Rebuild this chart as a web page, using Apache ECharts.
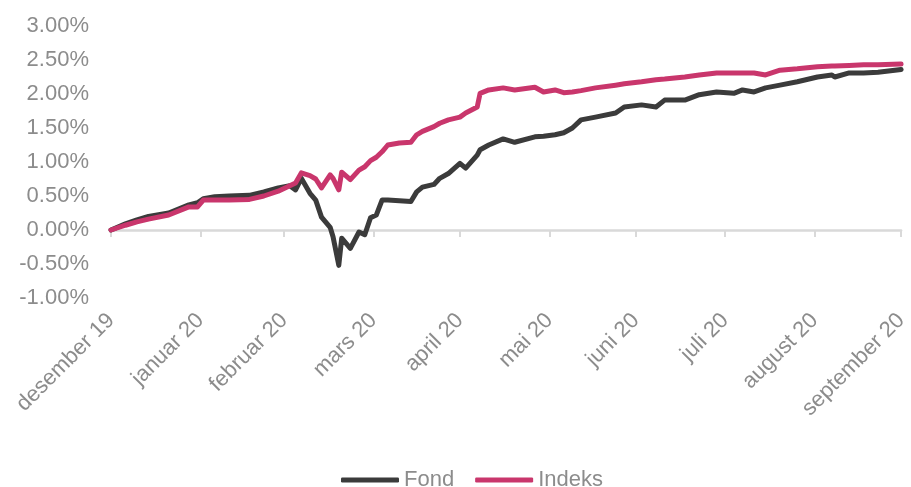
<!DOCTYPE html>
<html>
<head>
<meta charset="utf-8">
<script src="https://cdn.jsdelivr.net/npm/echarts@6/dist/echarts.min.js"></script>
<style>
html,body{margin:0;padding:0;background:#fff;}
#c{width:911px;height:487px;}
</style>
</head>
<body>
<div id="c"></div>
<script>
// Month-end tick dates and their labels
var tickDates = ['2019-12-31','2020-01-31','2020-02-29','2020-03-31','2020-04-30','2020-05-31','2020-06-30','2020-07-31','2020-08-31','2020-09-30'];
var tickLabels = ['desember 19','januar 20','februar 20','mars 20','april 20','mai 20','juni 20','juli 20','august 20','september 20'];

// Sampled observation dates
var dates = ['2019-12-31','2020-01-05','2020-01-09','2020-01-13','2020-01-20','2020-01-27','2020-01-30','2020-02-01','2020-02-05','2020-02-10','2020-02-17','2020-02-22','2020-02-27','2020-03-02','2020-03-04','2020-03-06','2020-03-09','2020-03-11','2020-03-13','2020-03-16','2020-03-17','2020-03-19','2020-03-20','2020-03-23','2020-03-26','2020-03-28','2020-03-30','2020-04-01','2020-04-03','2020-04-05','2020-04-09','2020-04-13','2020-04-15','2020-04-17','2020-04-21','2020-04-23','2020-04-26','2020-04-30','2020-05-02','2020-05-06','2020-05-07','2020-05-10','2020-05-15','2020-05-19','2020-05-26','2020-05-29','2020-06-02','2020-06-05','2020-06-08','2020-06-11','2020-06-16','2020-06-23','2020-06-26','2020-07-02','2020-07-07','2020-07-10','2020-07-17','2020-07-22','2020-07-28','2020-08-03','2020-08-06','2020-08-10','2020-08-14','2020-08-19','2020-08-25','2020-09-01','2020-09-06','2020-09-07','2020-09-12','2020-09-17','2020-09-22','2020-09-30'];

// Fond (%)
var fond = [0.00,0.09,0.15,0.20,0.25,0.37,0.40,0.46,0.49,0.50,0.51,0.56,0.62,0.65,0.59,0.76,0.54,0.44,0.19,0.04,-0.10,-0.52,-0.12,-0.27,-0.03,-0.07,0.18,0.22,0.44,0.44,0.43,0.42,0.56,0.63,0.67,0.76,0.83,0.98,0.91,1.10,1.18,1.25,1.34,1.29,1.37,1.38,1.40,1.43,1.50,1.62,1.66,1.72,1.81,1.84,1.81,1.91,1.91,1.99,2.03,2.01,2.06,2.03,2.09,2.13,2.18,2.25,2.28,2.25,2.31,2.31,2.32,2.36];

// Indeks (%)
var indeks = [0.00,0.07,0.12,0.16,0.22,0.34,0.34,0.44,0.44,0.44,0.45,0.50,0.57,0.65,0.69,0.84,0.80,0.75,0.62,0.81,0.76,0.59,0.85,0.74,0.88,0.93,1.02,1.07,1.15,1.25,1.28,1.29,1.40,1.45,1.52,1.57,1.62,1.66,1.72,1.81,2.01,2.06,2.09,2.06,2.10,2.03,2.06,2.02,2.03,2.05,2.09,2.13,2.15,2.18,2.21,2.22,2.25,2.28,2.31,2.31,2.31,2.31,2.28,2.35,2.37,2.40,2.41,2.41,2.42,2.43,2.43,2.44];

// Y-axis range / ticks
var yMin = -1, yMax = 3, yStep = 0.5;

// Build daily category axis from first to last tick date
function pad(n){return n<10?'0'+n:''+n;}
var days = [];
(function(){
  var s = tickDates[0].split('-'), e = tickDates[tickDates.length-1].split('-');
  var d = new Date(Date.UTC(+s[0], +s[1]-1, +s[2]));
  var end = new Date(Date.UTC(+e[0], +e[1]-1, +e[2]));
  while (d <= end) {
    days.push(d.getUTCFullYear()+'-'+pad(d.getUTCMonth()+1)+'-'+pad(d.getUTCDate()));
    d = new Date(d.getTime()+86400000);
  }
})();
var labelMap = {};
tickDates.forEach(function(t,i){labelMap[t]=tickLabels[i];});
function isTick(idx, val){ return labelMap.hasOwnProperty(val); }

var font = '"Liberation Sans", Arial, sans-serif';
var gray = '#8c8c8c';

var chart = echarts.init(document.getElementById('c'), null, {renderer:'canvas'});
chart.setOption({
  animation: false,
  backgroundColor: '#ffffff',
  grid: {left: 111, right: 3, top: 26, bottom: 189, containLabel: false},
  legend: {
    left: 336, top: 464,
    itemWidth: 58, itemHeight: 5, itemGap: 21,
    icon: 'roundRect',
    textStyle: {fontFamily: font, fontSize: 22, color: gray},
    data: ['Fond','Indeks']
  },
  xAxis: [{
    type: 'category',
    data: days,
    boundaryGap: false,
    axisLine: {onZero: true, lineStyle: {color: '#d9d9d9', width: 2.5}},
    axisTick: {show: true, interval: isTick, length: 7, lineStyle: {color: '#d9d9d9', width: 2}},
    axisLabel: {show: false},
    splitLine: {show: false}
  },{
    type: 'category',
    data: days,
    boundaryGap: false,
    position: 'bottom',
    axisLine: {show: false, onZero: false},
    axisTick: {show: false},
    axisLabel: {
      interval: isTick,
      rotate: 45,
      margin: 19,
      fontFamily: font, fontSize: 22, color: gray,
      formatter: function(v){ return labelMap[v] || ''; }
    },
    splitLine: {show: false}
  }],
  yAxis: {
    type: 'value',
    min: yMin, max: yMax, interval: yStep,
    axisLine: {show: false},
    axisTick: {show: false},
    splitLine: {show: false},
    axisLabel: {
      margin: 22,
      fontFamily: font, fontSize: 22, color: gray,
      formatter: function(v){ return v.toFixed(2) + '%'; }
    }
  },
  series: [{
    name: 'Fond',
    type: 'line',
    xAxisIndex: 0,
    data: dates.map(function(d,i){return [d, fond[i]];}),
    showSymbol: false, symbol: 'none',
    lineStyle: {color: '#3b3b3b', width: 5, join: 'round', cap: 'round'},
    itemStyle: {color: '#3b3b3b'}
  },{
    name: 'Indeks',
    type: 'line',
    xAxisIndex: 0,
    data: dates.map(function(d,i){return [d, indeks[i]];}),
    showSymbol: false, symbol: 'none',
    lineStyle: {color: '#c9366c', width: 5, join: 'round', cap: 'round'},
    itemStyle: {color: '#c9366c'}
  }]
});
</script>
</body>
</html>
